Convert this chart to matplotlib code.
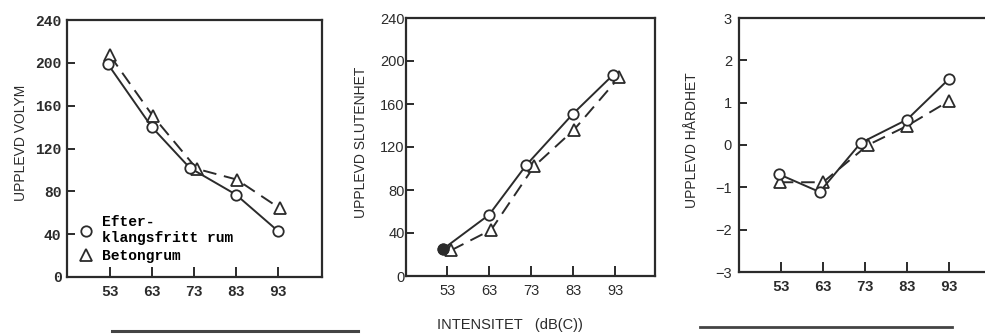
import matplotlib
matplotlib.use("Agg")
import matplotlib.pyplot as plt
from matplotlib.lines import Line2D

# ---- data ----
ticks_x = [53, 63, 73, 83, 93]

# (a) UPPLEVD VOLYM
vol_x_circ = [52.5, 63, 72, 83, 93]
vol_circ   = [199, 140, 102, 77, 43]
vol_x_tri  = [53, 63.3, 73.7, 83.2, 93.5]
vol_tri    = [207, 150, 101, 91, 64]

# (b) UPPLEVD SLUTENHET
slu_x_circ = [52, 63, 71.8, 83, 92.5]
slu_circ   = [25, 57, 103, 151, 187]
slu_x_tri  = [54, 63.5, 73.7, 83.2, 94]
slu_tri    = [24, 43, 102, 136, 185]

# (c) UPPLEVD HÅRDHET
har_x_circ = [52.5, 62.2, 72, 83, 93]
har_circ   = [-0.69, -1.11, 0.05, 0.6, 1.56]
har_x_tri  = [52.7, 63, 73.7, 83, 93]
har_tri    = [-0.88, -0.88, 0.0, 0.45, 1.04]

INK = "#2b2b2b"
MONO = ["Liberation Mono", "DejaVu Sans Mono"]
SANS = ["Liberation Sans", "DejaVu Sans"]
NARROW = ["Liberation Sans Narrow", "Liberation Sans", "DejaVu Sans"]

W, H = 985, 334
fig = plt.figure(figsize=(W / 100, H / 100), dpi=100)
fig.patch.set_facecolor("white")

def px_axes(l, t, r, b):
    return fig.add_axes([l / W, 1 - b / H, (r - l) / W, (b - t) / H])

def style(ax, xlim, ylim, yticks, ylabel, ylab_x, tickfont, ypad):
    ax.set_xlim(*xlim); ax.set_ylim(*ylim)
    ax.set_xticks(ticks_x); ax.set_yticks(yticks)
    for s in ax.spines.values():
        s.set_linewidth(1.6); s.set_color(INK)
    ax.tick_params(axis="x", direction="in", length=7, width=1.4, pad=6, colors=INK)
    ax.tick_params(axis="y", direction="in", length=6, width=1.4, pad=ypad, colors=INK)
    for lab in ax.get_xticklabels() + ax.get_yticklabels():
        lab.set_family(tickfont); lab.set_fontsize(10.5)
        if tickfont is MONO:
            lab.set_weight("bold")
    ax.set_ylabel(ylabel, family=SANS, fontsize=10, color=INK)
    ax.yaxis.set_label_coords(ylab_x, 0.52)

def series(ax, xc, yc, xt, yt, first_filled=False):
    ax.plot(xc, yc, "-", color=INK, lw=1.4, marker="o", ms=7.5, mfc="white", mec=INK, mew=1.3, zorder=3)
    ax.plot(xt, yt, color=INK, lw=1.4, ls=(0, (7, 4)), marker="^", ms=8, mfc="white", mec=INK, mew=1.3, zorder=2)
    if first_filled:
        ax.plot(xc[:1], yc[:1], "o", color=INK, ms=7.5, zorder=4)

# panel (a)
ax1 = px_axes(67, 20, 322, 277)
series(ax1, vol_x_circ, vol_circ, vol_x_tri, vol_tri)
style(ax1, (42.8, 103.5), (0, 240), range(0, 241, 40), "UPPLEVD VOLYM", -0.153, MONO, 4)
handles = [Line2D([], [], ls="none", marker="o", ms=7.5, mfc="white", mec=INK, mew=1.3),
           Line2D([], [], ls="none", marker="^", ms=8, mfc="white", mec=INK, mew=1.3)]
ax1.legend(handles, ["Efter-\nklangsfritt rum", "Betongrum"], loc="lower left",
           bbox_to_anchor=(0.04, 0.055), frameon=False, borderpad=0, borderaxespad=0,
           handlelength=1.2, handletextpad=0.5, labelspacing=0.25,
           prop={"family": MONO, "size": 10.5, "weight": "bold"})

# panel (b)
ax2 = px_axes(406, 18, 655, 276)
series(ax2, slu_x_circ, slu_circ, slu_x_tri, slu_tri, first_filled=True)
style(ax2, (43.2, 102.5), (0, 240), range(0, 241, 40), "UPPLEVD SLUTENHET", -0.153, NARROW, 1)

# panel (c) - right edge runs past the figure like the cropped scan
ax3 = px_axes(739, 18, 991, 272)
series(ax3, har_x_circ, har_circ, har_x_tri, har_tri)
style(ax3, (43, 103), (-3, 3), range(-3, 4), "UPPLEVD HÅRDHET", -0.159, NARROW, 5)
for lab in ax3.get_xticklabels():
    lab.set_family(MONO); lab.set_weight("bold")

fig.text(510 / W, 1 - 325 / H, "INTENSITET   (dB(C))", family=SANS, fontsize=10.5,
         color=INK, ha="center", va="center")

# the two rules under the outer panels
fig.add_artist(Line2D([112 / W, 358 / W], [1 - 331 / H] * 2, color="#444444", lw=2.2))
fig.add_artist(Line2D([700 / W, 952 / W], [1 - 327 / H] * 2, color="#444444", lw=2.0))

fig.savefig("out.png", dpi=100, facecolor="white")
